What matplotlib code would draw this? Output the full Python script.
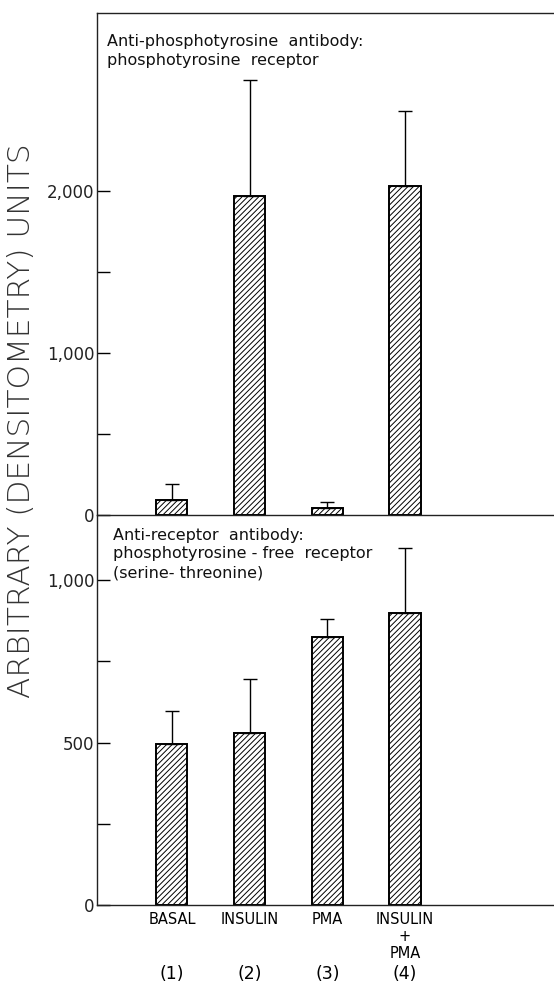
import matplotlib.pyplot as plt

plt.rcParams["hatch.linewidth"] = 0.7
plt.rcParams["font.family"] = ["DejaVu Sans"]

categories = ["BASAL", "INSULIN", "PMA", "INSULIN\n+\nPMA"]
numbers = ["(1)", "(2)", "(3)", "(4)"]

# anti-phosphotyrosine antibody
top_vals = [93, 1969, 43, 2031]
top_err = [97, 716, 37, 463]

# anti-receptor antibody
bot_vals = [495, 529, 825, 898]
bot_err = [102, 166, 55, 200]

xs = [1, 2, 3, 4]
W, H = 554, 984
fig = plt.figure(figsize=(W / 100, H / 100), dpi=100)

left = 97 / W
ax1 = fig.add_axes([left, 1 - 515 / H, 1 - left, (515 - 13) / H])
ax2 = fig.add_axes([left, 1 - 905 / H, 1 - left, (905 - 515) / H])


def draw(ax, vals, err, ymax, major, minor, labels):
    ax.patch.set_alpha(0)
    ax.bar(xs, vals, width=0.4, color="white", edgecolor="black",
           linewidth=1.4, hatch="//////", zorder=2)
    ax.errorbar(xs, vals, yerr=[[0] * 4, err], fmt="none", ecolor="black",
                elinewidth=1.0, capsize=5, capthick=1.0, zorder=3)
    ax.set_xlim(0.035, 5.918)
    ax.set_ylim(0, ymax)
    ax.spines["right"].set_visible(False)
    for s in ("left", "top", "bottom"):
        ax.spines[s].set_linewidth(1.0)
        ax.spines[s].set_color("#222")
    ax.set_yticks(major)
    ax.set_yticklabels(labels, fontsize=12, color="#222")
    ax.set_yticks(minor, minor=True)
    ax.tick_params(axis="y", which="both", direction="in", length=9,
                   width=1.0, pad=2)
    ax.set_xticks([])


draw(ax1, top_vals, top_err, 3099, [0, 1000, 2000], [500, 1500],
     ["0", "1,000", "2,000"])
draw(ax2, bot_vals, bot_err, 1200, [0, 500, 1000], [250, 750],
     ["0", "500", "1,000"])
ax2.spines["top"].set_visible(False)

ax1.text(0.022, 0.958, "Anti-phosphotyrosine  antibody:\nphosphotyrosine  receptor",
         transform=ax1.transAxes, fontsize=11.5, va="top", ha="left",
         linespacing=1.3, color="#111")
ax2.text(0.035, 0.967,
         "Anti-receptor  antibody:\nphosphotyrosine - free  receptor\n(serine- threonine)",
         transform=ax2.transAxes, fontsize=11.5, va="top", ha="left",
         linespacing=1.3, color="#111")

for x, c, n in zip(xs, categories, numbers):
    ax2.annotate(c, (x, 0), xytext=(0, -5), textcoords="offset points",
                 ha="center", va="top", fontsize=10.5, linespacing=1.15,
                 annotation_clip=False)
    ax2.annotate(n, (x, 0), xytext=(0, -43), textcoords="offset points",
                 ha="center", va="top", fontsize=12.5, annotation_clip=False)

fig.text(22 / W, 1 - 421 / H, "ARBITRARY (DENSITOMETRY) UNITS", rotation=90,
         ha="center", va="center", fontsize=22.5, fontweight="light",
         color="#333")

fig.savefig("out.png", dpi=100)
